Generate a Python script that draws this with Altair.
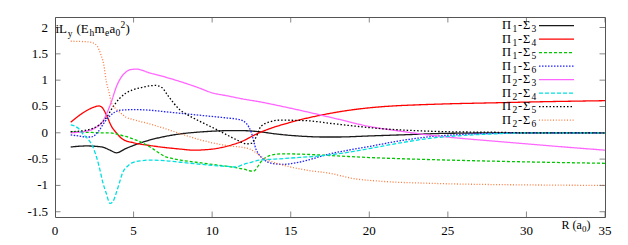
import altair as alt
import pandas as pd

# ---------------- data ----------------
series_labels = [("1", "3"), ("1", "4"), ("1", "5"), ("1", "6"),
                 ("2", "3"), ("2", "4"), ("2", "5"), ("2", "6")]
series_keys = ["P%sS%s" % (a, b) for a, b in series_labels]

x_tick_values = [0, 5, 10, 15, 20, 25, 30, 35]
x_tick_labels = ["0", "5", "10", "15", "20", "25", "30", "35"]
y_tick_values = [-1.5, -1, -0.5, 0, 0.5, 1, 1.5, 2]
y_tick_labels = ["-1.5", "-1", "-0.5", "0", "0.5", "1", "1.5", "2"]

R_p1s3 = [1, 2, 3, 3.5, 3.9, 4.5, 5, 6, 7, 8, 9, 10, 11, 12, 13, 14, 15, 16, 17, 18, 20, 22, 25, 30, 35]
L_p1s3 = [-0.27, -0.25, -0.27, -0.33, -0.38, -0.30, -0.24, -0.14, -0.07, -0.02, 0.01, 0.03, 0.04, 0.04,
          0.02, -0.02, -0.05, -0.07, -0.08, -0.08, -0.06, -0.04, -0.01, 0.0, 0.0]

R_p1s4 = [1, 1.5, 2, 2.5, 2.8, 3.0, 3.3, 3.6, 3.9, 4.3, 5, 6, 7, 8, 8.8, 10, 11, 12, 12.7, 13.5, 15, 17,
          19, 21, 23, 25, 28, 31, 35]
L_p1s4 = [0.20, 0.32, 0.42, 0.49, 0.51, 0.48, 0.32, 0.12, 0.0, -0.12, -0.19, -0.24, -0.28, -0.31, -0.33,
          -0.31, -0.25, -0.15, -0.04, 0.06, 0.20, 0.34, 0.44, 0.50, 0.53, 0.55, 0.57, 0.59, 0.61]

R_p1s5 = [1, 2, 3, 3.5, 4, 4.5, 5, 5.5, 6, 6.5, 7, 7.5, 8, 9, 10, 11, 12, 12.6, 13.2, 13.7, 14.5, 16, 18,
          20, 24, 28, 35]
L_p1s5 = [0.02, 0.01, 0.0, 0.0, -0.03, -0.07, -0.12, -0.18, -0.26, -0.36, -0.45, -0.49, -0.52, -0.56,
          -0.60, -0.64, -0.69, -0.73, -0.52, -0.43, -0.40, -0.41, -0.44, -0.47, -0.51, -0.54, -0.58]

R_p1s6 = [1, 1.5, 2, 2.3, 2.8, 3.1, 3.45, 3.8, 4.2, 5, 6, 7, 8, 9, 10, 11, 11.75, 12.2, 12.5, 12.8, 13,
          13.5, 14, 14.5, 15.5, 17.5, 20, 22, 24, 26, 28, 30, 35]
L_p1s6 = [-0.04, -0.06, -0.08, -0.08, 0.04, 0.18, 0.31, 0.39, 0.43, 0.44, 0.43, 0.40, 0.37, 0.34, 0.31,
          0.28, 0.25, 0.17, 0.0, -0.32, -0.42, -0.55, -0.59, -0.60, -0.56, -0.40, -0.26, -0.15, -0.07,
          -0.03, -0.01, 0.0, 0.0]

R_p2s3 = [1, 2, 2.6, 3.0, 3.25, 3.6, 3.9, 4.2, 4.5, 4.8, 5.2, 6, 7, 8, 9, 10, 11, 12, 13, 14, 16, 18, 20,
          22, 24, 26, 28, 30, 32, 35]
L_p2s3 = [0.0, 0.03, 0.10, 0.20, 0.34, 0.60, 0.87, 1.05, 1.15, 1.20, 1.21, 1.14, 1.06, 0.97, 0.87, 0.76,
          0.70, 0.64, 0.59, 0.53, 0.40, 0.26, 0.12, 0.03, -0.05, -0.11, -0.16, -0.21, -0.26, -0.33]

R_p2s4 = [1, 1.5, 1.8, 2.1, 2.4, 2.8, 3.05, 3.25, 3.5, 3.7, 3.9, 4.1, 4.3, 4.6, 4.9, 5.5, 6, 7, 8, 9,
          10, 11, 11.5, 12, 12.5, 13, 14, 15, 17.5, 20, 22, 24, 26, 28, 30, 35]
L_p2s4 = [0.15, 0.08, -0.03, -0.12, -0.26, -0.63, -0.95, -1.14, -1.34, -1.30, -1.14, -0.95, -0.76,
          -0.64, -0.57, -0.53, -0.52, -0.53, -0.56, -0.59, -0.62, -0.64, -0.65, -0.60, -0.56, -0.52,
          -0.50, -0.48, -0.42, -0.30, -0.19, -0.10, -0.05, -0.02, 0.0, 0.0]

R_p2s5 = [1, 2, 2.8, 3.3, 3.6, 4.1, 4.5, 4.9, 5.5, 6, 6.4, 6.8, 7.2, 7.9, 8.5, 9.2, 10.3, 11, 11.6,
          12.2, 12.5, 12.8, 13.1, 13.7, 14.3, 16, 17.5, 19, 20.7, 23, 25, 28, 30, 35]
L_p2s5 = [0.02, 0.05, 0.15, 0.30, 0.45, 0.65, 0.75, 0.81, 0.86, 0.89, 0.90, 0.86, 0.70, 0.45, 0.33,
          0.22, 0.06, -0.05, -0.14, -0.21, -0.20, -0.08, 0.12, 0.21, 0.24, 0.23, 0.18, 0.13, 0.08, 0.04,
          0.02, 0.01, 0.0, 0.0]

R_p2s6 = [1, 2, 2.4, 2.7, 2.9, 3.1, 3.25, 3.45, 3.6, 3.9, 4.2, 4.5, 5, 6, 7, 8, 9.2, 10, 11.1, 12, 12.4,
          12.8, 13.2, 14, 15, 16, 17.5, 19, 20.7, 23.9, 27, 30, 35]
L_p2s6 = [1.74, 1.73, 1.71, 1.64, 1.50, 1.30, 1.00, 0.75, 0.56, 0.45, 0.37, 0.30, 0.25, 0.17, 0.08,
          -0.02, -0.13, -0.19, -0.25, -0.28, -0.31, -0.38, -0.47, -0.57, -0.65, -0.71, -0.77, -0.87,
          -0.92, -0.96, -0.98, -0.99, -1.0]

all_R = [R_p1s3, R_p1s4, R_p1s5, R_p1s6, R_p2s3, R_p2s4, R_p2s5, R_p2s6]
all_L = [L_p1s3, L_p1s4, L_p1s5, L_p1s6, L_p2s3, L_p2s4, L_p2s5, L_p2s6]

# ---------------- styles ----------------
line_colors = ["#1a1a1a", "#ff0000", "#00c800", "#2020ff", "#ff66ff", "#00e0e0", "#000000", "#ff7a3d"]
line_dashes = [[1, 0], [1, 0], [3, 2], [1.5, 1.5], [1, 0], [4, 2], [1.5, 2], [1, 1.8]]
LW = 1.3
FONT = "Liberation Serif"

frames = []
for key, rr, ll in zip(series_keys, all_R, all_L):
    frames.append(pd.DataFrame({"series": key, "R": rr, "L": ll}))
df = pd.concat(frames, ignore_index=True)

xscale = alt.Scale(domain=[0, 35], nice=False, zero=False)
yscale = alt.Scale(domain=[-1.6, 2.2], nice=False, zero=False)

lines = alt.Chart(df).mark_line(strokeWidth=LW, interpolate="monotone", clip=True).encode(
    x=alt.X("R:Q", scale=xscale, axis=None),
    y=alt.Y("L:Q", scale=yscale, axis=None),
    color=alt.Color("series:N", scale=alt.Scale(domain=series_keys, range=line_colors), legend=None),
    strokeDash=alt.StrokeDash("series:N", scale=alt.Scale(domain=series_keys, range=line_dashes),
                              legend=None),
    detail="series:N",
)

xt_df = pd.DataFrame({"R": x_tick_values, "lab": x_tick_labels})
yt_df = pd.DataFrame({"L": y_tick_values, "lab": y_tick_labels})
tick_style = dict(color="#555555", thickness=1, size=11, clip=True)
t_bottom = alt.Chart(xt_df).mark_tick(orient="vertical", **tick_style).encode(
    x=alt.X("R:Q", axis=None), y=alt.YDatum(-1.6, axis=None))
t_top = alt.Chart(xt_df).mark_tick(orient="vertical", **tick_style).encode(
    x=alt.X("R:Q", axis=None), y=alt.YDatum(2.2, axis=None))
t_left = alt.Chart(yt_df).mark_tick(orient="horizontal", **tick_style).encode(
    y=alt.Y("L:Q", axis=None), x=alt.XDatum(0, axis=None))
t_right = alt.Chart(yt_df).mark_tick(orient="horizontal", **tick_style).encode(
    y=alt.Y("L:Q", axis=None), x=alt.XDatum(35, axis=None))

# tick labels (plain hyphen-minus, as in the reference)
x_labels = alt.Chart(xt_df).mark_text(
    align="center", baseline="alphabetic", font=FONT, fontSize=13, color="black"
).encode(x=alt.X("R:Q", axis=None), y=alt.value(218), text="lab:N")
y_labels = alt.Chart(yt_df).mark_text(
    align="right", baseline="middle", font=FONT, fontSize=13, color="black"
).encode(y=alt.Y("L:Q", axis=None), x=alt.value(-7), text="lab:N")


def piece(txt, x, y, size):
    return alt.Chart(pd.DataFrame({"t": [txt]})).mark_text(
        align="left", baseline="alphabetic", font=FONT, fontSize=size, color="black"
    ).encode(text="t:N", x=alt.value(x), y=alt.value(y))


layers = [lines, t_bottom, t_top, t_left, t_right, x_labels, y_labels]

# y-axis title: iL_y (E_h m_e a_0^2)
yb = 16.3
MS, SS = 13, 9.5
layers += [
    piece("iL", 0.5, yb, MS), piece("y", 12.8, yb + 3.5, SS), piece("(E", 21.5, yb, MS),
    piece("h", 34.5, yb + 3, SS), piece("m", 39.5, yb, MS), piece("e", 50, yb + 3, SS),
    piece("a", 54.5, yb, MS), piece("0", 60.5, yb + 3, SS), piece("2", 65.5, yb - 5.5, SS),
    piece(")", 70.5, yb, MS),
]

# x-axis title: R (a_0)
xb = 212
layers += [piece("R (a", 506.5, xb, 12), piece("0", 527, xb + 3, 9), piece(")", 531.5, xb, 12)]

# legend
for i, ((a, b), col, dash) in enumerate(zip(series_labels, line_colors, line_dashes)):
    yc = 8.7 + 13.5 * i
    seg = pd.DataFrame({"px": [484, 519], "py": [yc, yc]})
    layers += [
        piece("\u03a0", 447, yc + 3.5, 12.5), piece(a, 457.5, yc + 6.5, 9.5),
        piece("-", 463, yc + 3.5, 12.5), piece("\u03a3", 468, yc + 3.5, 12.5),
        piece(b, 476.5, yc + 6.5, 9.5),
        alt.Chart(seg).mark_line(color=col, strokeDash=dash, strokeWidth=LW).encode(
            x=alt.X("px:Q", scale=None, axis=None), y=alt.Y("py:Q", scale=None, axis=None)),
    ]

chart = alt.layer(*layers).properties(
    width=550, height=200,
    autosize=alt.AutoSizeParams(type="none"),
    padding={"left": 47, "top": 9, "right": 15, "bottom": 20},
).configure_view(stroke="#555555", strokeWidth=1)

chart.save("out.html", embed_options={"renderer": "svg", "actions": False})
